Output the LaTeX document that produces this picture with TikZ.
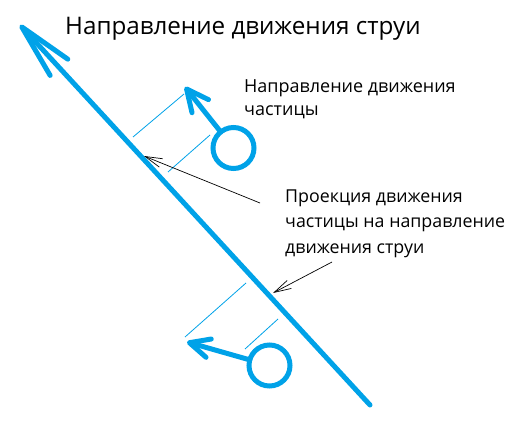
\documentclass[tikz,border=0pt]{standalone}
\usepackage{fontspec}
\setmainfont{Open Sans}
\usetikzlibrary{arrows.meta}
\definecolor{jetblue}{RGB}{0,162,232}

\begin{document}
\begin{tikzpicture}[x=1pt,y=-1pt,
  jet/.style={color=jetblue,line width=5pt,line cap=round},
  trace/.style={color=jetblue,line width=0.8pt},
  grain/.style={circle,draw=jetblue,line width=5pt,minimum size=41pt,inner sep=0pt,outer sep=0pt},
  pointer/.style={line width=0.7pt,-{Straight Barb[length=17pt,width=9pt,line width=0.7pt]}},
  label/.style={anchor=base west,align=left,inner sep=0pt,font=\fontsize{17.8}{25.5}\selectfont}]
\useasboundingbox (0,0) rectangle (516,425);
% stream
\coordinate (jetend) at (370,405);
\coordinate (jettip) at (20,25);
\draw [jet,-{Straight Barb[round,length=55pt,width=24pt]}] (jetend) -- (jettip);
% particles
\node [grain] (p1) at (233.5,148) {};
\node [grain] (p2) at (269.5,365.5) {};
\coordinate (m1) at (185,87);
\coordinate (m2) at (187,342);
\draw [jet,-{Straight Barb[round,length=22pt,width=21pt]}] (p1) -- (m1);
\draw [jet,-{Straight Barb[round,length=20pt,width=19pt]}] (p2) -- (m2);
% projections
\coordinate (a1) at (133,137); \coordinate (b1) at (184,94);
\coordinate (a2) at (168,172); \coordinate (b2) at (210,135);
\coordinate (a3) at (185,337); \coordinate (b3) at (246,283);
\coordinate (a4) at (245,349); \coordinate (b4) at (278,319);
\draw [trace] (a1) -- (b1);
\draw [trace] (a2) -- (b2);
\draw [trace] (a3) -- (b3);
\draw [trace] (a4) -- (b4);
% texts (base = last line)
\node [label,font=\fontsize{24.2}{28}\selectfont] (title) at (65,35) {Направление движения струи};
\node [label,font=\fontsize{18}{24}\selectfont] (motion) at (244,116) {Направление движения\\частицы};
\node [label] (proj) at (285,253) {Проекция движения\\частицы на направление\\движения струи};
\coordinate (q1) at (260,203);
\coordinate (q2) at (332,262);
\coordinate (r1) at (144,156);
\coordinate (r2) at (273,293);
\draw [pointer] (q1) -- (r1);
\draw [pointer] (q2) -- (r2);
\end{tikzpicture}
\end{document}
